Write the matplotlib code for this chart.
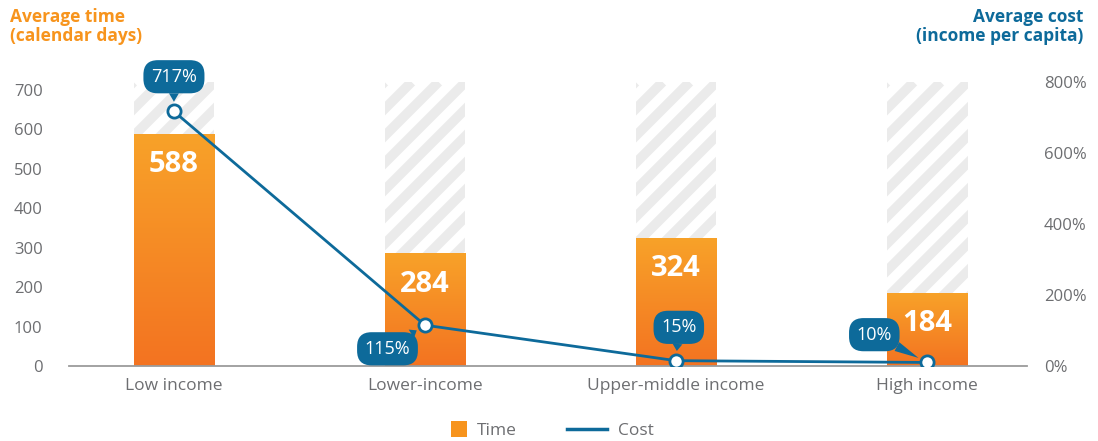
import matplotlib
matplotlib.use("Agg")
import matplotlib.pyplot as plt
import numpy as np
from matplotlib.patches import Rectangle
from matplotlib.lines import Line2D
from matplotlib.legend_handler import HandlerPatch
from matplotlib.colors import LinearSegmentedColormap

categories = ["Low income", "Lower-income", "Upper-middle income", "High income"]
time_days = [588, 284, 324, 184]
cost_pct = [717, 115, 15, 10]
cost_labels = ["717%", "115%", "15%", "10%"]
time_ticks = [0, 100, 200, 300, 400, 500, 600, 700]
cost_ticks = [0, 200, 400, 600, 800]

# callout placement around each cost point (offset points)
callout_offsets = [(0, 25), (-27, -17), (2, 24), (-38, 20)]

ORANGE = "#F7941D"
BLUE = "#0D6A9A"
GREY_TXT = "#6D6E71"
TIME_MAX = 720
COST_MAX = 800

plt.rcParams["font.family"] = ["Open Sans", "DejaVu Sans"]

fig = plt.figure(figsize=(10.98, 4.41), dpi=100)
ax = fig.add_axes([69 / 1098, 1 - 366 / 441, (1027 - 69) / 1098, (366 - 82) / 441])
ax.set_xlim(-0.418, 3.398)
ax.set_ylim(0, TIME_MAX)

x = np.arange(len(categories))
width = 0.322

# striped background columns
to_data = ax.transData.inverted()
for xi in x:
    x0, x1 = xi - width / 2, xi + width / 2
    clip = Rectangle((x0, 0), width, TIME_MAX, transform=ax.transData)
    px0, py0 = ax.transData.transform((x0, 0))
    px1, py1 = ax.transData.transform((x1, TIME_MAX))
    h = py1 - py0
    for c in np.arange(px0 - h, px1 + 27, 27):
        a = to_data.transform((c, py0))
        b = to_data.transform((c + h, py1))
        ln = Line2D([a[0], b[0]], [a[1], b[1]], color="#EBEBEB", lw=7,
                    solid_capstyle="butt", zorder=1)
        ax.add_line(ln)
        ln.set_clip_path(clip)

# gradient bars
cmap = LinearSegmentedColormap.from_list("bar", ["#F37321", "#F8A229"])
grad = np.linspace(0, 1, 256).reshape(-1, 1)
for xi, v in zip(x, time_days):
    ax.imshow(grad, extent=[xi - width / 2, xi + width / 2, 0, v], origin="lower",
              cmap=cmap, aspect="auto", zorder=2)
    ax.annotate(str(v), (xi, v), xytext=(0, -22), textcoords="offset points",
                ha="center", va="center", color="white", fontsize=21,
                fontweight="bold", zorder=3)
ax.set_xlim(-0.418, 3.398)
ax.set_ylim(0, TIME_MAX)

ax.set_xticks(x)
ax.set_xticklabels(categories)
ax.set_yticks(time_ticks)
ax.tick_params(axis="y", length=0, pad=19, labelsize=12, labelcolor=GREY_TXT)
ax.tick_params(axis="x", length=0, pad=9, labelsize=12.5, labelcolor=GREY_TXT)
for s in ["top", "left", "right"]:
    ax.spines[s].set_visible(False)
ax.spines["bottom"].set_color("#9B9B9B")
ax.spines["bottom"].set_linewidth(1.3)

# cost line on the right axis
ax2 = ax.twinx()
ax2.set_ylim(0, COST_MAX)
ax2.plot(x, cost_pct, color=BLUE, lw=2, marker="o", ms=9.5, mfc="white",
         mec=BLUE, mew=2, zorder=4)
for xi, c, lab, off in zip(x, cost_pct, cost_labels, callout_offsets):
    ax2.annotate(lab, (xi, c), xytext=off, textcoords="offset points",
                 ha="center", va="center", color="white", fontsize=13,
                 bbox=dict(boxstyle="round,pad=0.42,rounding_size=0.8", fc=BLUE, ec="none"),
                 arrowprops=dict(arrowstyle="wedge,tail_width=0.55,shrink_factor=0.5",
                                 fc=BLUE, ec="none", shrinkA=0, shrinkB=7),
                 zorder=5)
ax2.set_yticks(cost_ticks)
ax2.set_yticklabels([f"{t}%" for t in cost_ticks])
ax2.tick_params(axis="y", length=0, pad=12, labelsize=12, labelcolor=GREY_TXT)
for s in ax2.spines.values():
    s.set_visible(False)

fig.text(10 / 1098, 1 - 8 / 441, "Average time\n(calendar days)", ha="left", va="top",
         color=ORANGE, fontsize=12.5, fontweight="bold", linespacing=1.1)
fig.text(1083 / 1098, 1 - 8 / 441, "Average cost\n(income per capita)", ha="right",
         va="top", color=BLUE, fontsize=12.5, fontweight="bold", linespacing=1.1,
         multialignment="right")


def square_handle(legend, orig_handle, xdescent, ydescent, width, height, fontsize):
    side = 11.5
    return Rectangle((width - side - xdescent, (height - side) / 2 - ydescent), side, side)


handles = [Rectangle((0, 0), 1, 1, fc=ORANGE, ec="none"),
           Line2D([], [], color=BLUE, lw=2.5)]
fig.legend(handles, ["Time", "Cost"], loc="center", bbox_to_anchor=(0.492, 1 - 431 / 441),
           ncol=2, frameon=False, fontsize=12.5, handlelength=2.3, handletextpad=0.6,
           columnspacing=2.9, labelcolor=GREY_TXT,
           handler_map={Rectangle: HandlerPatch(patch_func=square_handle)})

fig.savefig("out.png", dpi=100)
